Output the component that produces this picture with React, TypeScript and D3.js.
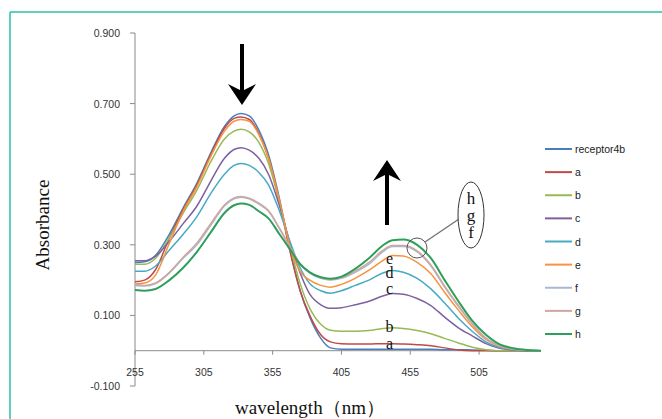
import React from "react";
import * as d3 from "d3";

const wavelengths = [255, 262, 270, 280, 290, 300, 310, 320, 327, 332, 338, 345, 352, 360, 368, 375, 382, 390, 397, 405, 415, 425, 435, 442, 450, 460, 470, 480, 490, 500, 510, 520, 530, 540, 550];

const seriesNames = ["receptor4b", "a", "b", "c", "d", "e", "f", "g", "h"];
const seriesColors = ["#4A7EBB", "#BE4B48", "#98B954", "#7D60A0", "#46AAC5", "#F69240", "#A9B8D2", "#CFA79C", "#2E9E5B"];

const receptor4b = [0.250, 0.252, 0.270, 0.330, 0.405, 0.475, 0.560, 0.635, 0.665, 0.672, 0.665, 0.625, 0.555, 0.430, 0.280, 0.170, 0.095, 0.035, 0.008, 0.004, 0.004, 0.004, 0.004, 0.004, 0.004, 0.004, 0.004, 0.003, 0.003, 0.002, 0.001, 0.0, 0.0, 0.0, 0.0];
const a = [0.195, 0.200, 0.230, 0.320, 0.400, 0.470, 0.555, 0.630, 0.658, 0.662, 0.655, 0.615, 0.545, 0.420, 0.275, 0.170, 0.100, 0.045, 0.025, 0.020, 0.019, 0.019, 0.020, 0.020, 0.019, 0.017, 0.014, 0.008, 0.002, 0.0, 0.0, 0.0, 0.0, 0.0, 0.0];
const b = [0.245, 0.245, 0.262, 0.320, 0.390, 0.455, 0.535, 0.600, 0.622, 0.627, 0.620, 0.590, 0.530, 0.420, 0.290, 0.190, 0.120, 0.075, 0.058, 0.055, 0.055, 0.057, 0.063, 0.065, 0.063, 0.057, 0.048, 0.035, 0.022, 0.010, 0.003, 0.0, 0.0, 0.0, 0.0];
const c = [0.255, 0.255, 0.268, 0.310, 0.360, 0.410, 0.480, 0.545, 0.570, 0.575, 0.568, 0.545, 0.500, 0.410, 0.300, 0.220, 0.160, 0.130, 0.120, 0.122, 0.130, 0.140, 0.155, 0.162, 0.160, 0.148, 0.128, 0.095, 0.065, 0.042, 0.020, 0.007, 0.002, 0.0, 0.0];
const d = [0.225, 0.225, 0.240, 0.285, 0.330, 0.380, 0.445, 0.500, 0.525, 0.530, 0.525, 0.505, 0.470, 0.395, 0.305, 0.235, 0.190, 0.170, 0.163, 0.170, 0.185, 0.200, 0.220, 0.227, 0.222, 0.205, 0.175, 0.135, 0.092, 0.055, 0.025, 0.009, 0.003, 0.001, 0.0];
const e = [0.190, 0.192, 0.215, 0.305, 0.395, 0.465, 0.550, 0.622, 0.650, 0.655, 0.650, 0.612, 0.545, 0.425, 0.290, 0.225, 0.200, 0.185, 0.180, 0.188, 0.205, 0.228, 0.255, 0.270, 0.268, 0.250, 0.218, 0.165, 0.115, 0.068, 0.032, 0.012, 0.004, 0.001, 0.0];
const f = [0.185, 0.183, 0.190, 0.220, 0.262, 0.300, 0.355, 0.410, 0.430, 0.435, 0.430, 0.415, 0.395, 0.345, 0.290, 0.245, 0.220, 0.205, 0.200, 0.205, 0.222, 0.245, 0.280, 0.295, 0.295, 0.280, 0.240, 0.180, 0.125, 0.075, 0.035, 0.014, 0.005, 0.001, 0.0];
const g = [0.188, 0.185, 0.192, 0.222, 0.265, 0.305, 0.360, 0.413, 0.433, 0.437, 0.432, 0.418, 0.397, 0.347, 0.292, 0.247, 0.222, 0.207, 0.201, 0.207, 0.225, 0.250, 0.284, 0.298, 0.298, 0.283, 0.243, 0.183, 0.128, 0.077, 0.036, 0.015, 0.005, 0.001, 0.0];
const h = [0.172, 0.170, 0.175, 0.200, 0.235, 0.280, 0.335, 0.390, 0.412, 0.417, 0.413, 0.395, 0.375, 0.330, 0.285, 0.245, 0.222, 0.208, 0.204, 0.210, 0.232, 0.262, 0.298, 0.313, 0.315, 0.300, 0.262, 0.200, 0.140, 0.085, 0.045, 0.018, 0.007, 0.002, 0.0];

const seriesValues = [receptor4b, a, b, c, d, e, f, g, h];

const yTicks = [-0.1, 0.1, 0.3, 0.5, 0.7, 0.9];
const xTicks = [255, 305, 355, 405, 455, 505];

const curveLabels = ["e", "d", "c", "b", "a"];
const curveLabelValues = [0.262, 0.222, 0.176, 0.068, 0.021];
const groupLabels = ["h", "g", "f"];

export default function App() {
  const x = d3.scaleLinear().domain([255, 550]).range([135, 541]);
  const y = d3.scaleLinear().domain([-0.1, 0.9]).range([386, 33]);
  const line = d3
    .line<number>()
    .x((_, i) => x(wavelengths[i]))
    .y((v) => y(v))
    .curve(d3.curveMonotoneX);

  const sans = "Arial, 'Liberation Sans', sans-serif";
  const serif = "'Times New Roman', 'Liberation Serif', 'DejaVu Serif', serif";

  const legendY = d3.scaleLinear().domain([0, 8]).range([149, 334]);

  return (
    <svg
      width={662}
      height={419}
      style={{ position: "absolute", left: 0, top: 0, background: "#fff" }}
    >
      {/* frame */}
      <line x1={10} y1={12} x2={662} y2={12} stroke="#2DBFA5" strokeWidth={1.5} />
      <line x1={10} y1={12} x2={10} y2={419} stroke="#2DBFA5" strokeWidth={1.5} />

      {/* y axis */}
      <line x1={135} y1={y(0.9)} x2={135} y2={y(-0.1)} stroke="#8a8a8a" strokeWidth={1} />
      {yTicks.map((t) => (
        <g key={t}>
          <line x1={130} x2={135} y1={y(t)} y2={y(t)} stroke="#8a8a8a" />
          <text
            x={120}
            y={y(t)}
            textAnchor="end"
            dominantBaseline="central"
            fontFamily={sans}
            fontSize={10.5}
            fill="#333"
          >
            {t.toFixed(3)}
          </text>
        </g>
      ))}

      {/* x axis */}
      <line x1={135} y1={y(0)} x2={541} y2={y(0)} stroke="#8a8a8a" strokeWidth={1} />
      {xTicks.map((t) => (
        <g key={t}>
          <line x1={x(t)} x2={x(t)} y1={y(0)} y2={y(0) + 4} stroke="#8a8a8a" />
          <text
            x={x(t)}
            y={372}
            textAnchor="middle"
            dominantBaseline="central"
            fontFamily={sans}
            fontSize={10.5}
            fill="#333"
          >
            {t}
          </text>
        </g>
      ))}

      {/* series */}
      {seriesValues.map((vals, i) => (
        <path
          key={seriesNames[i]}
          d={line(vals) || ""}
          fill="none"
          stroke={seriesColors[i]}
          strokeWidth={i === 8 ? 2 : 1.5}
        />
      ))}

      {/* legend */}
      {seriesNames.map((n, i) => (
        <g key={n}>
          <line x1={545} x2={572} y1={legendY(i)} y2={legendY(i)} stroke={seriesColors[i]} strokeWidth={2} />
          <text
            x={575}
            y={legendY(i)}
            dominantBaseline="central"
            fontFamily={sans}
            fontSize={10.5}
            fill="#222"
          >
            {n}
          </text>
        </g>
      ))}

      {/* axis titles */}
      <text
        transform={`translate(42, 225) rotate(-90)`}
        textAnchor="middle"
        dominantBaseline="central"
        fontFamily={serif}
        fontSize={19}
        fill="#111"
      >
        Absorbance
      </text>
      <text
        x={310}
        y={407}
        textAnchor="middle"
        dominantBaseline="central"
        fontFamily={serif}
        fontSize={19}
        fill="#111"
      >
        wavelength（nm）
      </text>

      {/* arrows */}
      <line x1={242} y1={44} x2={242} y2={92} stroke="#000" strokeWidth={4} />
      <path d="M242,105 L228,84 L242,91 L256,84 Z" fill="#000" />
      <line x1={387} y1={225} x2={387} y2={173} stroke="#000" strokeWidth={4} />
      <path d="M387,160 L373,181 L387,174 L401,181 Z" fill="#000" />

      {/* curve labels */}
      {curveLabels.map((l, i) => (
        <text
          key={l}
          x={x(440)}
          y={y(curveLabelValues[i])}
          textAnchor="middle"
          dominantBaseline="central"
          fontFamily={serif}
          fontSize={16}
          fill="#111"
        >
          {l}
        </text>
      ))}

      {/* group annotation */}
      <circle cx={417} cy={248} r={10} fill="none" stroke="#555" strokeWidth={1} />
      <line x1={425} y1={242} x2={459} y2={219} stroke="#777" strokeWidth={1.5} />
      <ellipse cx={471} cy={215} rx={13} ry={33} fill="#fff" stroke="#333" strokeWidth={1} />
      {groupLabels.map((l, i) => (
        <text
          key={l}
          x={471}
          y={198 + i * 17}
          textAnchor="middle"
          dominantBaseline="central"
          fontFamily={serif}
          fontSize={17}
          fill="#111"
        >
          {l}
        </text>
      ))}
    </svg>
  );
}
